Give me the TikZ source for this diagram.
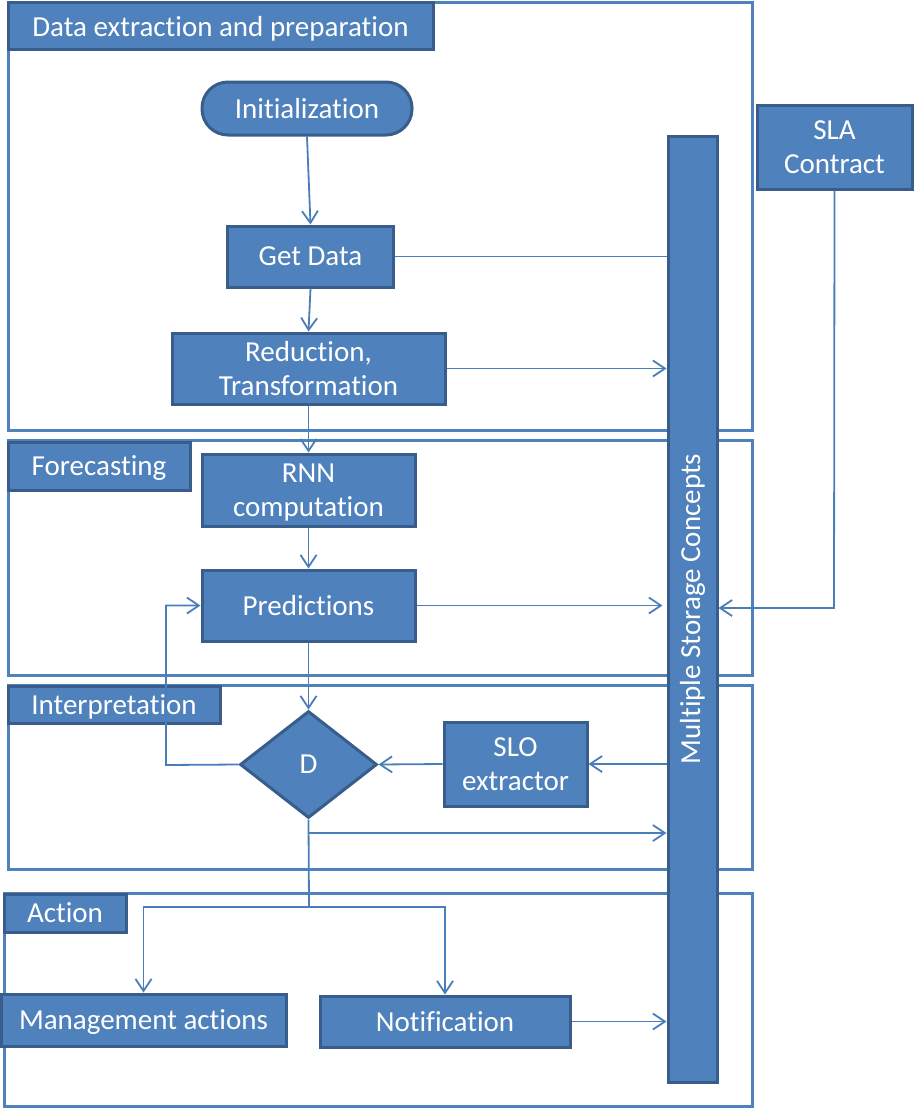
\documentclass[tikz,border=0pt]{standalone}
\usepackage{fontspec}
\setmainfont{Carlito}[Ligatures={NoCommon}]
\usepackage{graphicx}
\usetikzlibrary{arrows.meta,shapes.geometric,calc}
\definecolor{boxfill}{HTML}{4F81BD}
\definecolor{boxline}{HTML}{385D8A}
\definecolor{linecol}{HTML}{4A7EBB}
\begin{document}
\begin{tikzpicture}[x=1pt,y=-1pt,
  box/.style={draw=boxline, fill=boxfill, line width=3pt, text=white,
    font=\fontsize{29}{34}\selectfont, inner sep=0pt, align=center, text depth=0pt},
  frame/.style={draw=boxfill, line width=3pt},
  conn/.style={draw=linecol, line width=1.8pt},
  arr/.style={conn, -{Straight Barb[length=12pt,width=16pt]}},
]
\useasboundingbox (0,0) rectangle (914,1108);

% section frames
\draw[frame] (8,3) rectangle (752,430);
\draw[frame] (8,440) rectangle (752,675);
\draw[frame] (8,685) rectangle (752,869);
\draw[frame] (4,893) rectangle (752,1106);

% section titles
\node[box, minimum width=425pt, minimum height=47pt] (t1) at (220.5,26.5) {Data extraction and preparation};
\node[box, minimum width=182pt, minimum height=48pt] (t2) at (99,466) {Forecasting};
\node[box, minimum width=212pt, minimum height=37pt] (t3) at (114,704.5) {Interpretation};
\node[box, minimum width=122pt, minimum height=38pt] (t4) at (65,913) {Action};

% storage
\node[box, minimum width=49pt, minimum height=946pt] (storage) at (692.5,609) {\rotatebox{90}{Multiple Storage Concepts}};

% nodes
\node[box, rounded corners=26pt, minimum width=210pt, minimum height=53pt] (init) at (307,108.5) {Initialization};
\node[box, minimum width=166pt, minimum height=61pt] (getdata) at (310.5,256.5) {Get Data};
\node[box, minimum width=273pt, minimum height=71pt] (reduce) at (308.5,368.5) {Reduction,\\Transformation};
\node[box, minimum width=213pt, minimum height=72pt] (rnn) at (308.5,490) {RNN\\computation};
\node[box, minimum width=213pt, minimum height=71pt] (pred) at (308.5,605.5) {Predictions};
\node[box, diamond, minimum width=137pt, minimum height=107pt] (d) at (308.5,764.5) {D};
\node[box, minimum width=143pt, minimum height=84pt] (slo) at (515.5,764) {SLO\\extractor};
\node[box, minimum width=285pt, minimum height=52pt] (mgmt) at (143.5,1020) {Management actions};
\node[box, minimum width=250pt, minimum height=51pt] (notif) at (445,1021.5) {Notification};
\node[box, minimum width=155pt, minimum height=84pt] (sla) at (834.5,147) {SLA\\Contract};

% helper coordinates
\coordinate (slacorner) at (834,608);
\coordinate (fb) at (166,765);
\coordinate (dbr) at (309,833);
\coordinate (split) at (309,907);

% connectors
\draw[arr] (init.south) -- (getdata.north);
\draw[conn] (getdata.east) -- (getdata.east -| storage.west);
\draw[arr] (getdata.south) -- (reduce.north);
\draw[arr] (reduce.east) -- (reduce.east -| storage.west);
\draw[arr] (reduce.south) -- (rnn.north);
\draw[arr] (rnn.south) -- (pred.north);
\draw[arr] (pred.east) -- ($(pred.east -| storage.west)+(-4,0)$);
\draw[arr] (sla.south) -- (slacorner) -- (slacorner -| storage.east);
\draw[arr] (pred.south) -- (d.north);
\draw[arr] (d.west) -- (fb) |- (pred.west);
\draw[arr] (storage.west |- slo.east) -- (slo.east);
\draw[arr] (slo.west) -- (d.east);
\draw[conn] (d.south) -- (split);
\draw[arr] (dbr) -- (dbr -| storage.west);
\draw[arr] (split) -| (mgmt.north);
\draw[arr] (split) -| (notif.north);
\draw[arr] (notif.east) -- (notif.east -| storage.west);
\end{tikzpicture}
\end{document}
